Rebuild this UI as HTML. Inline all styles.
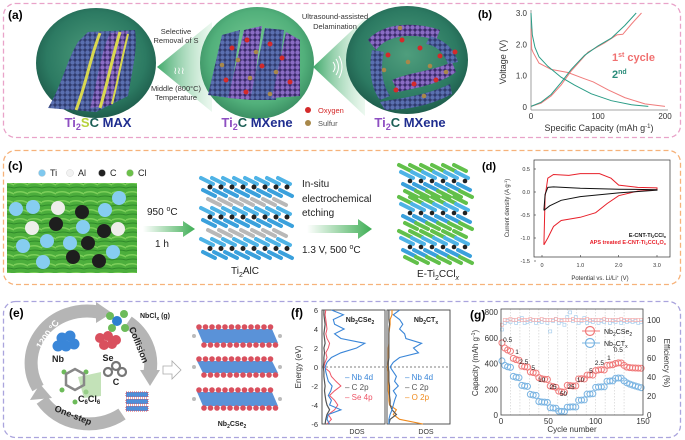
<!DOCTYPE html>
<html><head><meta charset="utf-8">
<style>
html,body{margin:0;padding:0;background:#fff;}
svg{display:block;font-family:"Liberation Sans",Arial,sans-serif;}
</style></head>
<body>
<svg id="fig" xmlns="http://www.w3.org/2000/svg" width="685" height="440" viewBox="0 0 685 440">
<defs>
  <radialGradient id="gDark" cx="50%" cy="45%" r="55%">
    <stop offset="0%" stop-color="#4f9e7d"/><stop offset="75%" stop-color="#2c7a62"/><stop offset="100%" stop-color="#1f5e4d"/>
  </radialGradient>
  <radialGradient id="gLight" cx="50%" cy="45%" r="55%">
    <stop offset="0%" stop-color="#7fcf98"/><stop offset="75%" stop-color="#52b07b"/><stop offset="100%" stop-color="#3b8f63"/>
  </radialGradient>
  <linearGradient id="beam1" x1="0" x2="1"><stop offset="0" stop-color="#3fa86a"/><stop offset="1" stop-color="#cfeed8" stop-opacity="0.4"/></linearGradient>
  <linearGradient id="arrG" x1="0" x2="1"><stop offset="0" stop-color="#ffffff"/><stop offset="1" stop-color="#3fae55"/></linearGradient>
  <pattern id="atB" width="5" height="5" patternUnits="userSpaceOnUse"><rect width="5" height="5" fill="#2f3b6e"/><circle cx="2.5" cy="2.5" r="2.2" fill="#5a6fb0"/></pattern>
  <pattern id="atP" width="5" height="5" patternUnits="userSpaceOnUse"><rect width="5" height="5" fill="#3a2a6a"/><circle cx="2.5" cy="2.5" r="2.2" fill="#8a6cc4"/></pattern>
  <pattern id="photo" width="14" height="9" patternUnits="userSpaceOnUse"><rect width="14" height="9" fill="#4cae3c"/><path d="M0 4 Q7 1 14 5" stroke="#7ccf5a" stroke-width="1.5" fill="none"/><path d="M0 8 Q7 6 14 8" stroke="#2f8a2a" stroke-width="1" fill="none"/></pattern>
</defs>

<!-- panel boxes -->
<rect x="3.5" y="3.5" width="677" height="134" rx="12" fill="none" stroke="#e9a3c9" stroke-width="1.3" stroke-dasharray="5,3"/>
<rect x="3.5" y="150.5" width="677" height="134" rx="12" fill="none" stroke="#f6b27a" stroke-width="1.3" stroke-dasharray="5,3"/>
<rect x="3.5" y="301.5" width="677" height="136" rx="12" fill="none" stroke="#aaa4dd" stroke-width="1.3" stroke-dasharray="5,3"/>

<!-- ============ PANEL A ============ -->
<g id="pa">
  <text x="8" y="19" font-size="12" font-weight="bold">(a)</text>
  <polygon points="157,67 212,22 212,112" fill="url(#beam1)"/>
  <polygon points="313,67 365,18 365,116" fill="url(#beam1)"/>
  <ellipse cx="96" cy="63" rx="60" ry="55" fill="url(#gDark)"/>
  <ellipse cx="257" cy="63" rx="57" ry="56" fill="url(#gLight)"/>
  <ellipse cx="407" cy="60" rx="61" ry="54" fill="url(#gDark)"/>
  <!-- MAX slab -->
  <path d="M48 108 C62 85 66 62 78 42 L88 32 L135 30 C138 50 132 70 128 96 L96 112 Z" fill="url(#atB)"/>
  <path d="M90 108 C98 80 100 55 110 33 L128 31 C124 55 118 80 112 105 Z" fill="url(#atP)"/>
  <path d="M76 110 C86 85 90 58 100 33" stroke="#d8d850" stroke-width="3" fill="none"/>
  <path d="M100 108 C108 82 112 58 120 32" stroke="#d8d850" stroke-width="3" fill="none"/>
  <path d="M112 104 C118 80 122 58 128 34" stroke="#d8d850" stroke-width="2" fill="none"/>
  <!-- MXene slabs -->
  <path d="M208 95 L222 35 L240 30 L230 98 Z" fill="url(#atB)"/>
  <path d="M228 98 L244 30 L262 26 L252 100 Z" fill="url(#atP)"/>
  <path d="M250 100 L265 28 L284 30 L276 100 Z" fill="url(#atB)"/>
  <path d="M272 98 L286 32 L300 40 L300 96 Z" fill="url(#atP)"/>
  <!-- delaminated sheets -->
  <path d="M368 40 C380 25 410 20 440 30 L436 40 C410 32 386 36 376 50 Z" fill="url(#atP)"/>
  <path d="M372 50 C368 70 372 90 380 100 L390 96 C382 84 380 68 384 52 Z" fill="url(#atB)"/>
  <path d="M392 80 C410 72 430 72 452 62 L456 72 C440 84 416 88 398 92 Z" fill="url(#atP)"/>
  <path d="M380 102 C400 98 425 96 450 84 L452 94 C430 106 405 110 385 110 Z" fill="url(#atB)"/>
  <path d="M430 36 C445 40 455 50 458 62 L448 64 C444 54 438 46 426 44 Z" fill="url(#atB)"/>
  <g id="dotsA"></g>
  <text font-size="7.5" fill="#333" text-anchor="middle"><tspan x="176" y="34">Selective</tspan><tspan x="176" y="43">Removal of S</tspan></text>
  <text font-size="7.5" fill="#333" text-anchor="middle"><tspan x="176" y="91">Middle (800°C)</tspan><tspan x="176" y="100">Temperature</tspan></text>
  <text x="179" y="74" font-size="10" fill="#fff" text-anchor="middle">≀≀≀</text>
  <text font-size="7.5" fill="#333" text-anchor="middle"><tspan x="335" y="19">Ultrasound-assisted</tspan><tspan x="335" y="29">Delamination</tspan></text>
  <path d="M333 62 Q337 67 333 72 M336 59 Q341 67 336 75 M339 56 Q345 67 339 78" stroke="#fff" stroke-width="1" fill="none"/>
  <circle cx="308" cy="110" r="3" fill="#d42a2a"/>
  <text x="318" y="113" font-size="7.5" fill="#d42a2a">Oxygen</text>
  <circle cx="308" cy="123" r="3" fill="#a8884a"/>
  <text x="318" y="126" font-size="7.5" fill="#555">Sulfur</text>
  <text x="98" y="127" font-size="13" font-weight="bold" text-anchor="middle"><tspan fill="#8e4fc2">Ti</tspan><tspan fill="#8e4fc2" font-size="9" dy="3">2</tspan><tspan fill="#b7d23c" dy="-3">S</tspan><tspan fill="#1b5e55">C </tspan><tspan fill="#1f2d8f">MAX</tspan></text>
  <text x="257" y="127" font-size="13" font-weight="bold" text-anchor="middle"><tspan fill="#8e4fc2">Ti</tspan><tspan fill="#8e4fc2" font-size="9" dy="3">2</tspan><tspan fill="#1b5e55" dy="-3">C </tspan><tspan fill="#1f2d8f">MXene</tspan></text>
  <text x="410" y="127" font-size="13" font-weight="bold" text-anchor="middle"><tspan fill="#8e4fc2">Ti</tspan><tspan fill="#8e4fc2" font-size="9" dy="3">2</tspan><tspan fill="#1b5e55" dy="-3">C </tspan><tspan fill="#1f2d8f">MXene</tspan></text>
</g>

<!-- ============ PANEL B ============ -->
<g id="pb">
  <text x="478" y="18" font-size="11" font-weight="bold">(b)</text>
  <text transform="translate(506,62) rotate(-90)" font-size="9" fill="#333" text-anchor="middle">Voltage (V)</text>
  <text x="599" y="131" font-size="9" fill="#333" text-anchor="middle">Specific Capacity (mAh g<tspan font-size="6" dy="-3">-1</tspan><tspan dy="3">)</tspan></text>
  <text x="612" y="61" font-size="11" font-weight="bold" fill="#f07070">1<tspan font-size="7" dy="-4">st</tspan><tspan dy="4"> cycle</tspan></text>
  <text x="612" y="78" font-size="11" font-weight="bold" fill="#2a8c7a">2<tspan font-size="7" dy="-4">nd</tspan></text>
</g>

<!-- ============ PANEL C ============ -->
<g id="pc">
  <text x="8" y="170" font-size="12" font-weight="bold">(c)</text>
  <rect x="7" y="183" width="130" height="90" fill="url(#photo)"/>
  <g id="legendC"></g>
  <g id="spheresC"></g>
  <text x="147" y="215" font-size="10" fill="#222">950 <tspan font-size="7" dy="-4">o</tspan><tspan dy="4">C</tspan></text>
  <polygon points="143,226 183,226 183,221 195,229 183,237 183,232 143,232" fill="url(#arrG)"/>
  <text x="155" y="247" font-size="10" fill="#222">1 h</text>
  <g id="ti2alc"></g>
  <text x="245" y="274" font-size="10" fill="#222" text-anchor="middle">Ti<tspan font-size="7" dy="3">2</tspan><tspan dy="-3">AlC</tspan></text>
  <text font-size="10" fill="#222"><tspan x="302" y="187">In-situ</tspan><tspan x="302" y="202">electrochemical</tspan><tspan x="302" y="216">etching</tspan></text>
  <polygon points="307,225 358,225 358,219 372,229 358,239 358,233 307,233" fill="url(#arrG)"/>
  <text x="302" y="253" font-size="10" fill="#222">1.3 V, 500 <tspan font-size="7" dy="-4">o</tspan><tspan dy="4">C</tspan></text>
  <g id="etcl"></g>
  <text x="417" y="277" font-size="10" fill="#222">E-Ti<tspan font-size="7" dy="3">2</tspan><tspan dy="-3">CCl</tspan><tspan font-size="7" dy="3" font-style="italic">x</tspan></text>
</g>

<!-- ============ PANEL D ============ -->
<g id="pd">
  <text x="482" y="170" font-size="11" font-weight="bold">(d)</text>
  <rect x="534" y="160" width="136" height="97" fill="none" stroke="#333" stroke-width="0.7"/>
  <text transform="translate(509,208) rotate(-90)" font-size="6" fill="#333" text-anchor="middle">Current density (A g<tspan font-size="4" dy="-2">-1</tspan><tspan dy="2">)</tspan></text>
  <text x="600" y="280" font-size="6" fill="#333" text-anchor="middle">Potential vs. Li/Li<tspan font-size="4" dy="-2">+</tspan><tspan dy="2"> (V)</tspan></text>
  <text x="666" y="237" font-size="5.5" font-weight="bold" fill="#111" text-anchor="end">E-CNT-Ti<tspan font-size="4" dy="1">2</tspan><tspan dy="-1">CCl</tspan><tspan font-size="4" dy="1">x</tspan></text>
  <text x="666" y="244" font-size="5.5" font-weight="bold" fill="#e8202a" text-anchor="end">APS treated E-CNT-Ti<tspan font-size="4" dy="1">2</tspan><tspan dy="-1">CCl</tspan><tspan font-size="4" dy="1">x</tspan><tspan dy="-1">O</tspan><tspan font-size="4" dy="1">x</tspan></text>
</g>

<!-- ============ PANEL E ============ -->
<g id="pe">
  <text x="9" y="317" font-size="12" font-weight="bold">(e)</text>
  <path d="M38 388 A56 52 0 0 1 98 312" stroke="#b5b5b5" stroke-width="13" fill="none"/>
  <polygon points="96,302 112,313 96,323" fill="#b5b5b5"/>
  <path d="M128 322 A56 52 0 0 1 150 372" stroke="#b5b5b5" stroke-width="13" fill="none"/>
  <polygon points="140,370 160,370 150,386" fill="#b5b5b5"/>
  <path d="M122 414 A56 52 0 0 1 42 400" stroke="#b5b5b5" stroke-width="13" fill="none"/>
  <polygon points="30,400 40,384 52,398" fill="#b5b5b5"/>
  <text transform="translate(50,336) rotate(-55)" font-size="9" font-weight="bold" fill="#fff" text-anchor="middle">1200 °C</text>
  <text transform="translate(136,346) rotate(68)" font-size="9" font-weight="bold" fill="#222" text-anchor="middle">Collision</text>
  <text transform="translate(72,418) rotate(22)" font-size="9" font-weight="bold" fill="#222" text-anchor="middle">One-step</text>
  <g>
    <circle cx="110" cy="316" r="4" fill="#6dbb5a"/>
    <circle cx="124" cy="314" r="4" fill="#6dbb5a"/>
    <circle cx="112" cy="328" r="4" fill="#6dbb5a"/>
    <circle cx="117" cy="321" r="5" fill="#2d7fd0"/>
    <circle cx="125" cy="328" r="4" fill="#6dbb5a"/>
  </g>
  <text x="140" y="318" font-size="7" font-weight="bold" fill="#222">NbCl<tspan font-size="5" dy="2">x</tspan><tspan dy="-2"> (g)</tspan></text>
  <g id="blobs"></g>
  <text x="58" y="362" font-size="9" font-weight="bold" fill="#222" text-anchor="middle">Nb</text>
  <text x="108" y="361" font-size="9" font-weight="bold" fill="#222" text-anchor="middle">Se</text>
  <text x="116" y="385" font-size="9" font-weight="bold" fill="#222" text-anchor="middle">C</text>
  <polygon points="78,377 101,372 101,396 84,398" fill="#a9d59a" opacity="0.7"/>
  <polygon points="66,374 75,369 84,374 84,385 75,390 66,385" fill="none" stroke="#888" stroke-width="2.5"/>
  <text x="78" y="402" font-size="9" font-weight="bold" fill="#222">C<tspan font-size="6" dy="2">6</tspan><tspan dy="-2">Cl</tspan><tspan font-size="6" dy="2">6</tspan></text>
  <g id="ministack"></g>
  <path d="M163 366 L172 366 L172 361 L181 370 L172 379 L172 374 L163 374 Z" fill="none" stroke="#aaa" stroke-width="0.8"/>
  <g id="nbcse"></g>
  <text x="232" y="426" font-size="7" font-weight="bold" fill="#222" text-anchor="middle">Nb<tspan font-size="5" dy="2">2</tspan><tspan dy="-2">CSe</tspan><tspan font-size="5" dy="2">2</tspan></text>
</g>

<!-- ============ PANEL F ============ -->
<g id="pf">
  <text x="291" y="317" font-size="12" font-weight="bold">(f)</text>
  <text transform="translate(301,367) rotate(-90)" font-size="8" fill="#333" text-anchor="middle">Energy (eV)</text>
  <rect x="322" y="310" width="63" height="114" fill="none" stroke="#444" stroke-width="0.9"/>
  <rect x="387" y="310" width="63" height="114" fill="none" stroke="#444" stroke-width="0.9"/>
  <g id="fplot"></g>
  <text x="360" y="322" font-size="7" font-weight="bold" fill="#222" text-anchor="middle">Nb<tspan font-size="5" dy="2">2</tspan><tspan dy="-2">CSe</tspan><tspan font-size="5" dy="2">2</tspan></text>
  <text x="426" y="322" font-size="7" font-weight="bold" fill="#222" text-anchor="middle">Nb<tspan font-size="5" dy="2">2</tspan><tspan dy="-2">CT</tspan><tspan font-size="5" dy="2">x</tspan></text>
  <text x="345" y="380" font-size="8" fill="#3a86d8">– Nb 4d</text>
  <text x="345" y="390" font-size="8" fill="#555">– C 2p</text>
  <text x="345" y="400" font-size="8" fill="#ee5566">– Se 4p</text>
  <text x="405" y="380" font-size="8" fill="#3a86d8">– Nb 4d</text>
  <text x="405" y="390" font-size="8" fill="#555">– C 2p</text>
  <text x="405" y="400" font-size="8" fill="#f08a1c">– O 2p</text>
  <text x="357" y="434" font-size="7" fill="#333" text-anchor="middle">DOS</text>
  <text x="426" y="434" font-size="7" fill="#333" text-anchor="middle">DOS</text>
</g>

<!-- ============ PANEL G ============ -->
<g id="pg">
  <text x="470" y="319" font-size="12" font-weight="bold">(g)</text>
  <text transform="translate(478,363) rotate(-90)" font-size="8" fill="#333" text-anchor="middle">Capacity (mAh g<tspan font-size="5" dy="-3">-1</tspan><tspan dy="3">)</tspan></text>
  <text transform="translate(664,363) rotate(90)" font-size="8" fill="#333" text-anchor="middle">Efficiency (%)</text>
  <text x="572" y="432" font-size="8" fill="#333" text-anchor="middle">Cycle number</text>
  <g id="gplot"></g>
  <rect x="501" y="309" width="142" height="106" fill="none" stroke="#444" stroke-width="0.8"/>
  <circle cx="590" cy="331" r="4.5" fill="#fff" stroke="#f07a7a" stroke-width="1.2"/>
  <line x1="582" y1="331" x2="600" y2="331" stroke="#f07a7a" stroke-width="1"/>
  <text x="604" y="334" font-size="7" fill="#222">Nb<tspan font-size="5" dy="2">2</tspan><tspan dy="-2">CSe</tspan><tspan font-size="5" dy="2">2</tspan></text>
  <circle cx="590" cy="343" r="4.5" fill="#fff" stroke="#7ab4e2" stroke-width="1.2"/>
  <line x1="582" y1="343" x2="600" y2="343" stroke="#7ab4e2" stroke-width="1"/>
  <text x="604" y="346" font-size="7" fill="#222">Nb<tspan font-size="5" dy="2">2</tspan><tspan dy="-2">CT</tspan><tspan font-size="5" dy="2">x</tspan></text>
</g>

<g id="pbplot"></g>
<g id="pdplot"></g>
</svg>

<script>
const NS = "http://www.w3.org/2000/svg";
// ---------- Panel b data ----------
const bDis1Cap = [0, 1, 3, 12, 30, 55, 80, 93, 115, 140, 170, 200];
const bDis1V   = [2.5, 1.85, 1.75, 1.4, 1.2, 1.1, 0.9, 0.8, 0.55, 0.3, 0.1, 0.02];
const bDis2Cap = [0, 2, 6, 12, 25, 45, 65, 90, 120, 150, 175];
const bDis2V   = [3.0, 2.3, 1.9, 1.6, 1.3, 0.95, 0.7, 0.42, 0.2, 0.07, 0.02];
const bCh1Cap  = [0, 15, 30, 45, 60, 85, 110, 128, 137, 150, 165];
const bCh1V    = [0.02, 0.12, 0.35, 0.7, 1.15, 1.75, 2.05, 2.3, 2.32, 2.65, 3.0];
const bCh2Cap  = [0, 15, 30, 45, 60, 80, 100, 120, 140, 157];
const bCh2V    = [0.02, 0.15, 0.4, 0.78, 1.2, 1.65, 1.95, 2.2, 2.6, 3.0];
const bXTicks = [0, 100, 200];
const bYTicks = [0, 1.0, 2.0, 3.0];
const bYTickLabels = ["0", "1.0", "2.0", "3.0"];
// ---------- Panel d data ----------
const dBlackV = [0.05, 0.08, 0.15, 0.3, 1.0, 2.0, 3.0, 3.0, 2.0, 1.0, 0.5, 0.2, 0.05];
const dBlackI = [-0.4, -0.05, 0.1, 0.11, 0.08, 0.06, 0.05, 0.04, -0.02, -0.1, -0.18, -0.3, -0.4];
const dRedV = [0.05, 0.08, 0.15, 0.3, 0.7, 1.0, 1.5, 1.8, 2.0, 2.5, 3.0, 3.0, 2.5, 2.0, 1.7, 1.4, 1.0, 0.5, 0.3, 0.15, 0.05];
const dRedI = [-1.15, -0.1, 0.3, 0.38, 0.36, 0.4, 0.4, 0.3, 0.15, 0.1, 0.09, 0.05, 0.02, -0.08, -0.25, -0.45, -0.55, -0.62, -0.75, -1.0, -1.15];
const dXTicks = [0, 1, 2, 3];
const dXTickLabels = ["0", "1.0", "2.0", "3.0"];
const dYTicks = [0.5, 0, -0.5, -1.0, -1.5];
const dYTickLabels = ["0.5", "0.0", "-0.5", "-1.0", "-1.5"];
// ---------- Panel f data ----------
const fEnergy = [-6,-5.5,-5,-4.5,-4,-3.5,-3,-2.5,-2,-1.5,-1,-0.5,0,0.5,1,1.5,2,2.5,3,3.5,4,4.5,5,5.5,6];
const fNbLeft = [0.12,0.08,0.1,0.3,0.12,0.15,0.1,0.14,0.16,0.1,0.08,0.06,0.05,0.08,0.15,0.3,0.55,0.68,0.3,0.2,0.35,0.2,0.18,0.34,0.15];
const fCLeft  = [0.05,0.06,0.08,0.12,0.08,0.06,0.05,0.04,0.05,0.04,0.03,0.03,0.02,0.03,0.03,0.04,0.03,0.05,0.04,0.03,0.04,0.05,0.04,0.03,0.03];
const fSeLeft = [0.08,0.15,0.1,0.2,0.25,0.2,0.12,0.2,0.3,0.22,0.15,0.12,0.03,0.05,0.08,0.06,0.1,0.12,0.08,0.06,0.08,0.07,0.06,0.05,0.06];
const fNbRight = [0.03,0.03,0.05,0.08,0.1,0.12,0.15,0.1,0.18,0.12,0.15,0.1,0.05,0.1,0.2,0.5,0.42,0.55,0.3,0.28,0.2,0.25,0.2,0.1,0.2];
const fCRight  = [0.03,0.05,0.15,0.08,0.05,0.05,0.04,0.04,0.04,0.03,0.03,0.03,0.02,0.02,0.03,0.03,0.03,0.03,0.03,0.03,0.03,0.04,0.03,0.03,0.03];
const fORight  = [0.57,0.2,0.1,0.15,0.04,0.03,0.03,0.02,0.02,0.02,0.02,0.02,0.01,0.02,0.02,0.02,0.02,0.03,0.03,0.03,0.04,0.05,0.05,0.08,0.08];
const fYTicks = [6, 4, 2, 0, -2, -4, -6];
// ---------- Panel g data ----------
const gCycles = [1,4,7,10,13,16,19,22,25,28,31,34,37,40,43,46,49,52,55,58,61,64,67,70,73,76,79,82,85,88,91,94,97,100,103,106,109,112,115,118,121,124,127,130,133,136,139,142,145,148];
const gCapSe = [560,520,505,495,440,430,425,380,375,372,335,330,325,290,282,278,276,225,220,215,185,180,178,230,228,225,226,280,282,280,310,312,310,345,350,352,350,385,388,390,400,405,404,385,372,368,366,365,364,363];
const gCapTx = [420,385,375,370,300,293,290,230,225,222,160,155,152,105,101,100,98,56,54,52,30,28,27,60,62,63,62,115,116,117,162,163,165,215,217,218,219,262,264,265,285,287,286,265,250,240,232,225,218,212];
const gEffSe = [95,100,100,101,100,100,101,100,100,100,101,100,100,100,101,100,100,100,100,101,100,100,100,100,100,101,100,100,100,100,101,100,100,100,100,100,101,100,100,100,100,100,101,100,100,100,100,100,100,100];
const gEffTx = [90,97,99,98,100,97,99,102,97,98,99,100,97,99,98,100,97,88,99,101,97,99,95,103,108,99,103,97,99,102,97,99,98,100,97,99,98,100,97,99,98,100,97,99,98,99,98,99,97,98];
const gRates = ["0.5","1","2.5","5","10","25","50","25","10","5","2.5","1","0.5"];
const gRateCycles = [7,17,24,34,43,55,66,74,84,95,104,114,124];
const gRateCaps = [582,489,411,365,272,217,163,217,272,342,404,443,505];
const gXTicks = [0, 50, 100, 150];
const gYTicks = [0, 200, 400, 600, 800];
const gY2Ticks = [0, 20, 40, 60, 80, 100];
const gGrid = [10,20,30,40,50,60,70,80,90,100,110,120,130];

function mk(tag, attrs, name, parent) {
  const el = document.createElementNS(NS, tag);
  for (const k in attrs) el.setAttribute(k, attrs[k]);
  
  
  parent.appendChild(el);
  return el;
}
function txt(x, y, s, size, anchor, fill, name, parent) {
  const t = mk('text', {x: x, y: y, 'font-size': size, 'text-anchor': anchor, fill: fill}, name, parent);
  t.textContent = s;
  return t;
}
function poly(xs, ys, fx, fy) {
  return xs.map((v, i) => fx(v).toFixed(1) + ',' + fy(ys[i]).toFixed(1)).join(' ');
}

// ---------- Panel b ----------
const pb = document.getElementById('pbplot');
const bx = v => 531 + v * (665 - 531) / 200;
const by = v => 107 - v * (107 - 13) / 3;
mk('line', {x1: 531, y1: 10, x2: 531, y2: 110, stroke: '#888', 'stroke-width': 0.8}, 'b-y-axis', pb);
mk('line', {x1: 531, y1: 110, x2: 668, y2: 110, stroke: '#888', 'stroke-width': 0.8}, 'b-x-axis', pb);
bXTicks.forEach(t => { txt(bx(t), 119, String(t), 8, 'middle', '#333', 'b-x-tick', pb); });
bYTicks.forEach((t, i) => { txt(527, by(t) + 3, bYTickLabels[i], 8, 'end', '#333', 'b-y-tick', pb); });
mk('polyline', {points: poly(bDis1Cap, bDis1V, bx, by), fill: 'none', stroke: '#f07c7c', 'stroke-width': 1}, 'b-discharge-1st', pb);
mk('polyline', {points: poly(bCh1Cap, bCh1V, bx, by), fill: 'none', stroke: '#f07c7c', 'stroke-width': 1}, 'b-charge-1st', pb);
mk('polyline', {points: poly(bDis2Cap, bDis2V, bx, by), fill: 'none', stroke: '#2a9c86', 'stroke-width': 1}, 'b-discharge-2nd', pb);
mk('polyline', {points: poly(bCh2Cap, bCh2V, bx, by), fill: 'none', stroke: '#2a9c86', 'stroke-width': 1}, 'b-charge-2nd', pb);

// ---------- Panel d ----------
const pdp = document.getElementById('pdplot');
const dx = v => 542 + v * (657 - 542) / 3;
const dy = v => 192 - v * (192 - 169) / 0.5;
dXTicks.forEach((t, i) => {
  mk('line', {x1: dx(t), y1: 257, x2: dx(t), y2: 255, stroke: '#333', 'stroke-width': 0.6}, 'd-x-tick-mark', pdp);
  txt(dx(t), 267, dXTickLabels[i], 5.5, 'middle', '#333', 'd-x-tick', pdp);
});
dYTicks.forEach((t, i) => {
  mk('line', {x1: 534, y1: dy(t), x2: 536, y2: dy(t), stroke: '#333', 'stroke-width': 0.6}, 'd-y-tick-mark', pdp);
  txt(530, dy(t) + 2, dYTickLabels[i], 5.5, 'end', '#333', 'd-y-tick', pdp);
});
mk('polyline', {points: poly(dRedV, dRedI, dx, dy), fill: 'none', stroke: '#e8202a', 'stroke-width': 1}, 'd-cv-red', pdp);
mk('polyline', {points: poly(dBlackV, dBlackI, dx, dy), fill: 'none', stroke: '#111', 'stroke-width': 1}, 'd-cv-black', pdp);

// ---------- Panel f ----------
const fp = document.getElementById('fplot');
const fy = e => 367 - e * (367 - 310) / 6;
const fxL = v => 322 + v * 63;
const fxR = v => 387 + v * 63;
fYTicks.forEach(t => { txt(318, fy(t) + 3, String(t), 7.5, 'end', '#333', 'f-y-tick', fp); });
mk('line', {x1: 322, y1: fy(0), x2: 450, y2: fy(0), stroke: '#555', 'stroke-width': 0.7, 'stroke-dasharray': '2,2'}, 'fermi-level', fp);
mk('polyline', {points: poly(fSeLeft, fEnergy, fxL, fy), fill: 'none', stroke: '#ee5566', 'stroke-width': 1}, 'dos-se4p', fp);
mk('polyline', {points: poly(fCLeft, fEnergy, fxL, fy), fill: 'none', stroke: '#555', 'stroke-width': 1.2}, 'dos-c2p-left', fp);
mk('polyline', {points: poly(fNbLeft, fEnergy, fxL, fy), fill: 'none', stroke: '#3a86d8', 'stroke-width': 1.1}, 'dos-nb4d-left', fp);
mk('polyline', {points: poly(fORight, fEnergy, fxR, fy), fill: 'none', stroke: '#f08a1c', 'stroke-width': 1.1}, 'dos-o2p', fp);
mk('polyline', {points: poly(fCRight, fEnergy, fxR, fy), fill: 'none', stroke: '#555', 'stroke-width': 1.2}, 'dos-c2p-right', fp);
mk('polyline', {points: poly(fNbRight, fEnergy, fxR, fy), fill: 'none', stroke: '#3a86d8', 'stroke-width': 1.1}, 'dos-nb4d-right', fp);

// ---------- Panel g ----------
const gp = document.getElementById('gplot');
const gx = c => 501 + c * 142 / 150;
const gy = v => 415 - v * 103 / 800;
const ey = v => 415 - v * 95 / 100;
gGrid.forEach(c => { mk('line', {x1: gx(c), y1: 309, x2: gx(c), y2: 415, stroke: '#ccc', 'stroke-width': 0.6, 'stroke-dasharray': '1.5,1.5'}, 'g-gridline', gp); });
gXTicks.forEach(t => { txt(gx(t), 424, String(t), 8, 'middle', '#333', 'g-x-tick', gp); });
gYTicks.forEach(t => { txt(498, gy(t) + 3, String(t), 8, 'end', '#333', 'g-y-tick', gp); });
gY2Ticks.forEach(t => { txt(647, ey(t) + 3, String(t), 8, 'start', '#333', 'g-y2-tick', gp); });
gCycles.forEach((c, i) => {
  mk('rect', {x: gx(c) - 1.5, y: ey(gEffTx[i]) - 1.5, width: 3, height: 3, fill: 'none', stroke: '#a9cfee', 'stroke-width': 0.7}, 'eff-point-nb2ctx', gp);
  mk('rect', {x: gx(c) - 1.5, y: ey(gEffSe[i]) - 1.5, width: 3, height: 3, fill: 'none', stroke: '#f6b0b0', 'stroke-width': 0.7}, 'eff-point-nb2cse2', gp);
});
gCycles.forEach((c, i) => {
  mk('circle', {cx: gx(c), cy: gy(gCapTx[i]), r: 3, fill: 'none', stroke: '#7ab4e2', 'stroke-width': 1}, 'cap-point-nb2ctx', gp);
});
gCycles.forEach((c, i) => {
  mk('circle', {cx: gx(c), cy: gy(gCapSe[i]), r: 3, fill: 'none', stroke: '#f07a7a', 'stroke-width': 1}, 'cap-point-nb2cse2', gp);
});
gRates.forEach((r, i) => { txt(gx(gRateCycles[i]), gy(gRateCaps[i]) + 2, r, 6.5, 'middle', '#222', 'rate-label', gp); });

// ---------- Decorations: panel a dots ----------
const dA = document.getElementById('dotsA');
const redDots = [[232,48],[247,40],[270,44],[226,80],[262,66],[282,58],[290,82],[246,92],[388,55],[402,40],[420,48],[440,56],[396,90],[414,84],[436,80],[455,52]];
const brownDots = [[238,60],[256,52],[276,72],[222,65],[250,78],[270,94],[384,70],[408,62],[430,66],[424,96],[446,72],[400,28]];
redDots.forEach(p => { mk('circle', {cx: p[0], cy: p[1], r: 2.5, fill: '#d42a2a'}, 'oxygen-atom', dA); });
brownDots.forEach(p => { mk('circle', {cx: p[0], cy: p[1], r: 2.3, fill: '#a8884a'}, 'sulfur-atom', dA); });

// ---------- Panel c legend & spheres ----------
const lc = document.getElementById('legendC');
const legItems = [['Ti', '#7fc8ee', 42], ['Al', '#f2f2f2', 70], ['C', '#222', 102], ['Cl', '#6cc04a', 130]];
legItems.forEach(it => {
  mk('circle', {cx: it[2], cy: 173, r: 3.5, fill: it[1], stroke: '#bbb', 'stroke-width': 0.3}, 'legend-dot', lc);
  txt(it[2] + 8, 176, it[0], 9, 'start', '#222', 'legend-text', lc);
});
const sc = document.getElementById('spheresC');
const tiS = [[16,209],[33,207],[119,198],[105,210],[83,227],[47,241],[70,243],[23,246],[113,252],[43,262]];
const alS = [[58,208],[32,228],[118,229]];
const cS = [[82,212],[56,224],[104,231],[88,243],[73,257],[99,261]];
tiS.forEach(p => { mk('circle', {cx: p[0], cy: p[1], r: 7, fill: '#86cdf0'}, 'ti-sphere', sc); });
alS.forEach(p => { mk('circle', {cx: p[0], cy: p[1], r: 7, fill: '#eeeeea'}, 'al-sphere', sc); });
cS.forEach(p => { mk('circle', {cx: p[0], cy: p[1], r: 7, fill: '#1e1e1e'}, 'c-sphere', sc); });

// ---------- Crystal structures (rods) ----------
function rods(parent, x0, y0, n, color, name) {
  for (let i = 0; i < n; i++) {
    mk('line', {x1: x0 + i * 11 - 6, y1: y0 - 3, x2: x0 + i * 11 + 6, y2: y0 + 3, stroke: color, 'stroke-width': 4, 'stroke-linecap': 'round'}, name, parent);
  }
}
const ta = document.getElementById('ti2alc');
[[181, 193], [211, 223], [242, 255]].forEach(l => {
  rods(ta, 207, l[0], 8, '#4fb3e6', 'ti-rod');
  for (let i = 0; i < 8; i++) { mk('circle', {cx: 210 + i * 11, cy: (l[0] + l[1]) / 2, r: 2.5, fill: '#222'}, 'c-atom', ta); }
  rods(ta, 209, l[1], 8, '#3aa0dc', 'ti-rod');
});
rods(ta, 214, 202, 7, '#b8b8b8', 'al-rod');
rods(ta, 214, 233, 7, '#b8b8b8', 'al-rod');
const ec = document.getElementById('etcl');
[[170, 190], [202, 222], [236, 256]].forEach(l => {
  rods(ec, 405, l[0] - 2, 6, '#62c04a', 'cl-rod');
  rods(ec, 407, l[0] + 5, 6, '#4fb3e6', 'ti-rod');
  for (let i = 0; i < 6; i++) { mk('circle', {cx: 410 + i * 11, cy: (l[0] + l[1]) / 2 + 1, r: 2.3, fill: '#222'}, 'c-atom', ec); }
  rods(ec, 409, l[1] - 3, 6, '#3aa0dc', 'ti-rod');
  rods(ec, 411, l[1] + 4, 6, '#62c04a', 'cl-rod');
});

// ---------- Panel e blobs ----------
const bl = document.getElementById('blobs');
[[62,338],[70,336],[66,346],[74,344],[58,346]].forEach(p => { mk('circle', {cx: p[0], cy: p[1], r: 5.5, fill: '#3a86d8'}, 'nb-atom', bl); });
[[100,338],[108,336],[104,345],[112,344],[116,340]].forEach(p => { mk('circle', {cx: p[0], cy: p[1], r: 5, fill: '#d9505e'}, 'se-atom', bl); });
[[108,372],[116,366],[122,372]].forEach(p => { mk('circle', {cx: p[0], cy: p[1], r: 4, fill: 'none', stroke: '#777', 'stroke-width': 2.2}, 'c-atom', bl); });
[[64,372],[86,372],[62,390],[86,392],[75,402]].forEach(p => { mk('circle', {cx: p[0], cy: p[1], r: 2.5, fill: '#6dbb5a'}, 'cl-atom', bl); });
const ms = document.getElementById('ministack');
[392, 399, 406].forEach(y => {
  mk('rect', {x: 126, y: y, width: 22, height: 5, fill: '#4f8ed8', stroke: '#d9505e', 'stroke-width': 1, 'stroke-dasharray': '1,1'}, 'mini-slab', ms);
});
const ns = document.getElementById('nbcse');
[[325, 347], [357, 377], [388, 410]].forEach(l => {
  mk('polygon', {points: [197, l[0] + 4, 272, l[0] + 4, 278, l[1] - 4, 203, l[1] - 4].join(' '), fill: '#5a92d8'}, 'nb-c-layer', ns);
  for (let i = 0; i < 12; i++) {
    mk('circle', {cx: 199 + i * 6.5, cy: l[0] + 2, r: 2.8, fill: '#d9505e'}, 'se-atom', ns);
    mk('circle', {cx: 204 + i * 6.5, cy: l[1] - 2, r: 2.8, fill: '#d9505e'}, 'se-atom', ns);
  }
  mk('circle', {cx: 194, cy: (l[0] + l[1]) / 2, r: 2, fill: '#bbb'}, 'c-atom', ns);
  mk('circle', {cx: 280, cy: (l[0] + l[1]) / 2, r: 2, fill: '#bbb'}, 'c-atom', ns);
});
</script>
</body></html>
